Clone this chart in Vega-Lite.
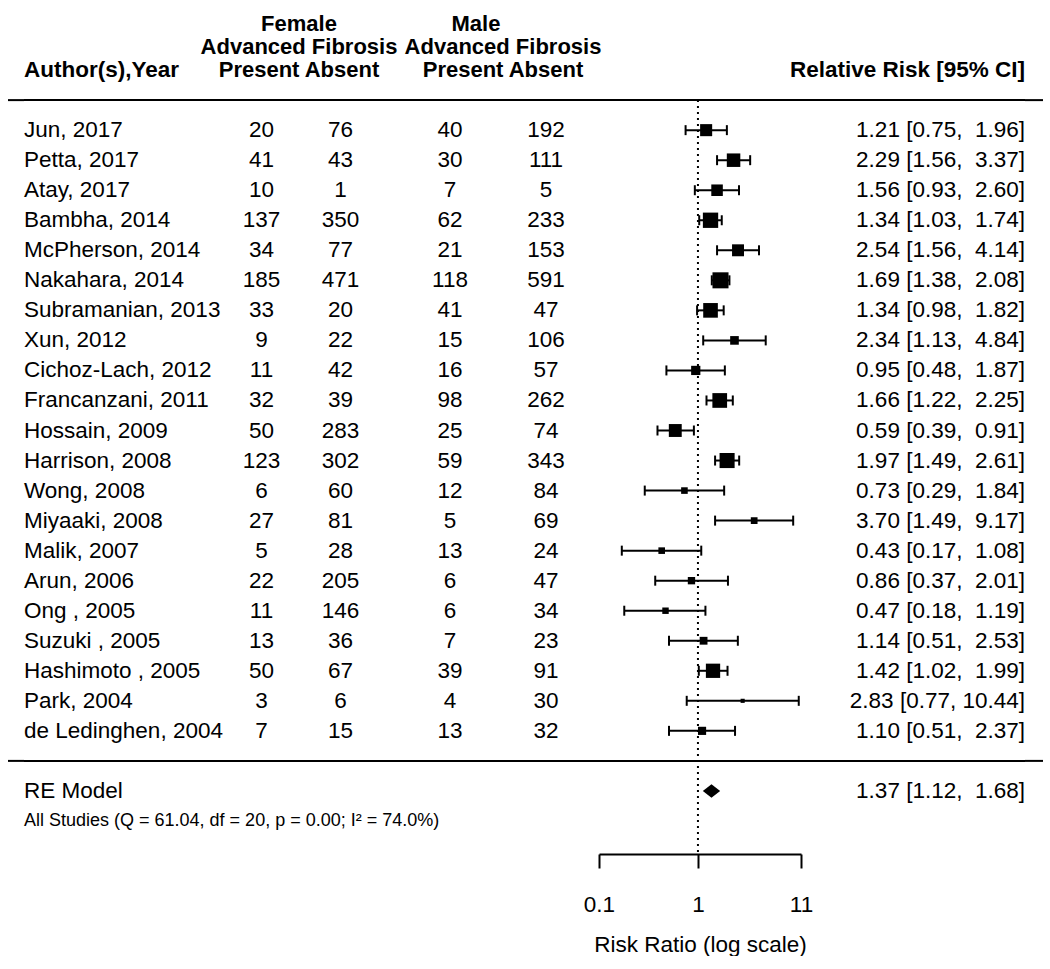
{
  "$schema": "https://vega.github.io/schema/vega-lite/v6.json",
  "padding": {"left": 7, "right": 8, "top": 1, "bottom": 0},
  "background": "white",
  "spacing": 0,
  "bounds": "flush",
  "config": {
    "view": {"stroke": null},
    "font": "Liberation Sans",
    "text": {"fontSize": 22.5, "color": "black", "baseline": "middle"},
    "axisX": {"grid": false, "domainColor": "black", "domainWidth": 2, "tickColor": "black", "tickWidth": 2, "tickSize": 14,
              "labelFontSize": 22.5, "labelColor": "black", "labelPadding": 25, "labelFont": "Liberation Sans",
              "labelFlush": false, "labelOverlap": false,
              "titleFontSize": 22.5, "titleFontWeight": "normal", "titleColor": "black", "titlePadding": 18, "titleFont": "Liberation Sans"}
  },
  "datasets": {
    "lines": [{"row": 22}, {"row": 0}],
    "studies": [
      {"row": 21, "study": "Jun, 2017", "fp": 20, "fa": 76, "mp": 40, "ma": 192, "rr": 1.21, "lb": 0.75, "ub": 1.96, "wt": 5.39, "ci": "1.21 [0.75, \u00a01.96]"},
      {"row": 20, "study": "Petta, 2017", "fp": 41, "fa": 43, "mp": 30, "ma": 111, "rr": 2.29, "lb": 1.56, "ub": 3.37, "wt": 6.04, "ci": "2.29 [1.56, \u00a03.37]"},
      {"row": 19, "study": "Atay, 2017", "fp": 10, "fa": 1, "mp": 7, "ma": 5, "rr": 1.56, "lb": 0.93, "ub": 2.60, "wt": 5.16, "ci": "1.56 [0.93, \u00a02.60]"},
      {"row": 18, "study": "Bambha, 2014", "fp": 137, "fa": 350, "mp": 62, "ma": 233, "rr": 1.34, "lb": 1.03, "ub": 1.74, "wt": 6.85, "ci": "1.34 [1.03, \u00a01.74]"},
      {"row": 17, "study": "McPherson, 2014", "fp": 34, "fa": 77, "mp": 21, "ma": 153, "rr": 2.54, "lb": 1.56, "ub": 4.14, "wt": 5.34, "ci": "2.54 [1.56, \u00a04.14]"},
      {"row": 16, "study": "Nakahara, 2014", "fp": 185, "fa": 471, "mp": 118, "ma": 591, "rr": 1.69, "lb": 1.38, "ub": 2.08, "wt": 7.17, "ci": "1.69 [1.38, \u00a02.08]"},
      {"row": 15, "study": "Subramanian, 2013", "fp": 33, "fa": 20, "mp": 41, "ma": 47, "rr": 1.34, "lb": 0.98, "ub": 1.82, "wt": 6.55, "ci": "1.34 [0.98, \u00a01.82]"},
      {"row": 14, "study": "Xun, 2012", "fp": 9, "fa": 22, "mp": 15, "ma": 106, "rr": 2.34, "lb": 1.13, "ub": 4.84, "wt": 3.86, "ci": "2.34 [1.13, \u00a04.84]"},
      {"row": 13, "study": "Cichoz-Lach, 2012", "fp": 11, "fa": 42, "mp": 16, "ma": 57, "rr": 0.95, "lb": 0.48, "ub": 1.87, "wt": 4.13, "ci": "0.95 [0.48, \u00a01.87]"},
      {"row": 12, "study": "Francanzani, 2011", "fp": 32, "fa": 39, "mp": 98, "ma": 262, "rr": 1.66, "lb": 1.22, "ub": 2.25, "wt": 6.58, "ci": "1.66 [1.22, \u00a02.25]"},
      {"row": 11, "study": "Hossain, 2009", "fp": 50, "fa": 283, "mp": 25, "ma": 74, "rr": 0.59, "lb": 0.39, "ub": 0.91, "wt": 5.77, "ci": "0.59 [0.39, \u00a00.91]"},
      {"row": 10, "study": "Harrison, 2008", "fp": 123, "fa": 302, "mp": 59, "ma": 343, "rr": 1.97, "lb": 1.49, "ub": 2.61, "wt": 6.74, "ci": "1.97 [1.49, \u00a02.61]"},
      {"row": 9, "study": "Wong, 2008", "fp": 6, "fa": 60, "mp": 12, "ma": 84, "rr": 0.73, "lb": 0.29, "ub": 1.84, "wt": 2.95, "ci": "0.73 [0.29, \u00a01.84]"},
      {"row": 8, "study": "Miyaaki, 2008", "fp": 27, "fa": 81, "mp": 5, "ma": 69, "rr": 3.70, "lb": 1.49, "ub": 9.17, "wt": 3.01, "ci": "3.70 [1.49, \u00a09.17]"},
      {"row": 7, "study": "Malik, 2007", "fp": 5, "fa": 28, "mp": 13, "ma": 24, "rr": 0.43, "lb": 0.17, "ub": 1.08, "wt": 2.95, "ci": "0.43 [0.17, \u00a01.08]"},
      {"row": 6, "study": "Arun, 2006", "fp": 22, "fa": 205, "mp": 6, "ma": 47, "rr": 0.86, "lb": 0.37, "ub": 2.01, "wt": 3.28, "ci": "0.86 [0.37, \u00a02.01]"},
      {"row": 5, "study": "Ong , 2005", "fp": 11, "fa": 146, "mp": 6, "ma": 34, "rr": 0.47, "lb": 0.18, "ub": 1.19, "wt": 2.88, "ci": "0.47 [0.18, \u00a01.19]"},
      {"row": 4, "study": "Suzuki , 2005", "fp": 13, "fa": 36, "mp": 7, "ma": 23, "rr": 1.14, "lb": 0.51, "ub": 2.53, "wt": 3.49, "ci": "1.14 [0.51, \u00a02.53]"},
      {"row": 3, "study": "Hashimoto , 2005", "fp": 50, "fa": 67, "mp": 39, "ma": 91, "rr": 1.42, "lb": 1.02, "ub": 1.99, "wt": 6.39, "ci": "1.42 [1.02, \u00a01.99]"},
      {"row": 2, "study": "Park, 2004", "fp": 3, "fa": 6, "mp": 4, "ma": 30, "rr": 2.83, "lb": 0.77, "ub": 10.44, "wt": 1.84, "ci": "2.83 [0.77, 10.44]"},
      {"row": 1, "study": "de Ledinghen, 2004", "fp": 7, "fa": 15, "mp": 13, "ma": 32, "rr": 1.10, "lb": 0.51, "ub": 2.37, "wt": 3.65, "ci": "1.10 [0.51, \u00a02.37]"}
    ],
    "pooled": [{"row": -1, "label": "RE Model", "rr": 1.37, "lb": 1.12, "ub": 1.68, "ci": "1.37 [1.12, \u00a01.68]"}],
    "stats": [{"row": -2, "label": "All Studies (Q = 61.04, df = 20, p = 0.00; I² = 74.0%)"}]
  },
  "hconcat": [
    {
      "width": 16, "height": 853,
      "data": {"name": "lines"},
      "mark": {"type": "rule", "strokeWidth": 2, "color": "black"},
      "encoding": {"y": {"field": "row", "type": "quantitative", "scale": {"domain": [-3.1, 25.3], "nice": false, "zero": false}, "axis": null}}
    },
    {
      "width": 181, "height": 853,
      "layer": [
        {"data": {"name": "lines"}, "mark": {"type": "rule", "strokeWidth": 2, "color": "black"},
         "encoding": {"y": {"field": "row", "type": "quantitative", "scale": {"domain": [-3.1, 25.3], "nice": false, "zero": false}, "axis": null}}},
        {"data": {"name": "studies"}, "mark": {"type": "text", "align": "left"},
         "encoding": {"x": {"datum": 0, "type": "quantitative", "scale": {"domain": [0, 1], "nice": false, "zero": false}, "axis": null},
                      "y": {"field": "row", "type": "quantitative", "axis": null}, "text": {"field": "study"}}},
        {"data": {"values": [{"row": 23, "label": "Author(s),Year"}]}, "mark": {"type": "text", "align": "left", "fontWeight": "bold"},
         "encoding": {"x": {"datum": 0, "type": "quantitative"}, "y": {"field": "row", "type": "quantitative"}, "text": {"field": "label"}}},
        {"data": {"name": "pooled"}, "mark": {"type": "text", "align": "left"},
         "encoding": {"x": {"datum": 0, "type": "quantitative"}, "y": {"field": "row", "type": "quantitative"}, "text": {"field": "label"}}},
        {"data": {"name": "stats"}, "mark": {"type": "text", "align": "left", "fontSize": 18},
         "encoding": {"x": {"datum": 0, "type": "quantitative"}, "y": {"field": "row", "type": "quantitative"}, "text": {"field": "label"}}}
      ]
    },
    {
      "width": 192, "height": 853,
      "layer": [
        {"data": {"name": "lines"}, "mark": {"type": "rule", "strokeWidth": 2, "color": "black"},
         "encoding": {"y": {"field": "row", "type": "quantitative", "scale": {"domain": [-3.1, 25.3], "nice": false, "zero": false}, "axis": null}}},
        {"data": {"name": "studies"}, "mark": {"type": "text"},
         "encoding": {"x": {"datum": "Present", "type": "nominal", "scale": {"type": "point", "domain": ["Present", "Absent"], "padding": 0.715}, "axis": null},
                      "y": {"field": "row", "type": "quantitative"}, "text": {"field": "fp"}}},
        {"data": {"name": "studies"}, "mark": {"type": "text"},
         "encoding": {"x": {"datum": "Absent", "type": "nominal"}, "y": {"field": "row", "type": "quantitative"}, "text": {"field": "fa"}}},
        {"data": {"values": [{"row": 23, "label": "Female\nAdvanced Fibrosis\nPresent Absent"}]},
         "mark": {"type": "text", "fontWeight": "bold", "fontSize": 22, "lineBreak": "\n", "lineHeight": 23, "dy": -46, "dx": -2},
         "encoding": {"y": {"field": "row", "type": "quantitative"}, "text": {"field": "label"}}}
      ]
    },
    {
      "width": 202, "height": 853,
      "layer": [
        {"data": {"name": "lines"}, "mark": {"type": "rule", "strokeWidth": 2, "color": "black"},
         "encoding": {"y": {"field": "row", "type": "quantitative", "scale": {"domain": [-3.1, 25.3], "nice": false, "zero": false}, "axis": null}}},
        {"data": {"name": "studies"}, "mark": {"type": "text"},
         "encoding": {"x": {"datum": "Present", "type": "nominal", "scale": {"type": "point", "domain": ["Present", "Absent"], "padding": 0.552}, "axis": null},
                      "y": {"field": "row", "type": "quantitative"}, "text": {"field": "mp"}}},
        {"data": {"name": "studies"}, "mark": {"type": "text"},
         "encoding": {"x": {"datum": "Absent", "type": "nominal"}, "y": {"field": "row", "type": "quantitative"}, "text": {"field": "ma"}}},
        {"data": {"values": [{"row": 23, "label": "Male"}]},
         "mark": {"type": "text", "fontWeight": "bold", "fontSize": 22, "dy": -46, "dx": -22},
         "encoding": {"y": {"field": "row", "type": "quantitative"}, "text": {"field": "label"}}},
        {"data": {"values": [{"row": 23, "label": "Advanced Fibrosis\nPresent Absent"}]},
         "mark": {"type": "text", "fontWeight": "bold", "fontSize": 22, "lineBreak": "\n", "lineHeight": 23, "dy": -23, "dx": 5},
         "encoding": {"y": {"field": "row", "type": "quantitative"}, "text": {"field": "label"}}}
      ]
    },
    {
      "width": 202, "height": 853,
      "layer": [
        {"data": {"name": "lines"}, "mark": {"type": "rule", "strokeWidth": 2, "color": "black"},
         "encoding": {"y": {"field": "row", "type": "quantitative", "scale": {"domain": [-3.1, 25.3], "nice": false, "zero": false}, "axis": null}}},
        {"data": {"values": [{"ref": 1, "top": 22, "bottom": -3.1}]},
         "mark": {"type": "rule", "strokeDash": [2, 4], "strokeWidth": 2, "color": "black"},
         "encoding": {
           "x": {"field": "ref", "type": "quantitative", "title": "Risk Ratio (log scale)", "scale": {"type": "log", "domain": [0.1, 11], "nice": false},
                 "axis": {"values": [0.1, 1, 11], "format": "~g", "title": "Risk Ratio (log scale)"}},
           "y": {"field": "top", "type": "quantitative"}, "y2": {"field": "bottom"}}},
        {"data": {"name": "studies"}, "mark": {"type": "rule", "strokeWidth": 2, "color": "black"},
         "encoding": {"x": {"field": "lb", "type": "quantitative", "title": "Risk Ratio (log scale)", "axis": {"values": [0.1, 1, 11], "format": "~g", "title": "Risk Ratio (log scale)"}},
                      "x2": {"field": "ub"}, "y": {"field": "row", "type": "quantitative"}}},
        {"data": {"name": "studies"}, "mark": {"type": "tick", "orient": "vertical", "size": 10, "thickness": 2, "color": "black", "opacity": 1},
         "encoding": {"x": {"field": "lb", "type": "quantitative", "title": "Risk Ratio (log scale)", "axis": {"values": [0.1, 1, 11], "format": "~g", "title": "Risk Ratio (log scale)"}},
                      "y": {"field": "row", "type": "quantitative"}}},
        {"data": {"name": "studies"}, "mark": {"type": "tick", "orient": "vertical", "size": 10, "thickness": 2, "color": "black", "opacity": 1},
         "encoding": {"x": {"field": "ub", "type": "quantitative", "title": "Risk Ratio (log scale)", "axis": {"values": [0.1, 1, 11], "format": "~g", "title": "Risk Ratio (log scale)"}},
                      "y": {"field": "row", "type": "quantitative"}}},
        {"data": {"name": "studies"}, "mark": {"type": "point", "shape": "square", "filled": true, "color": "black", "opacity": 1},
         "encoding": {"x": {"field": "rr", "type": "quantitative", "title": "Risk Ratio (log scale)", "axis": {"values": [0.1, 1, 11], "format": "~g", "title": "Risk Ratio (log scale)"}},
                      "y": {"field": "row", "type": "quantitative"},
                      "size": {"field": "wt", "type": "quantitative", "scale": {"type": "pow", "exponent": 2, "domain": [0, 8], "range": [0, 320]}, "legend": null}}},
        {"data": {"name": "pooled"}, "mark": {"type": "point", "shape": "M-1,0L0,-0.78L1,0L0,0.78Z", "filled": true, "color": "black", "opacity": 1, "size": 300},
         "encoding": {"x": {"field": "rr", "type": "quantitative", "title": "Risk Ratio (log scale)", "axis": {"values": [0.1, 1, 11], "format": "~g", "title": "Risk Ratio (log scale)"}},
                      "y": {"field": "row", "type": "quantitative"}}}
      ]
    },
    {
      "width": 224, "height": 853,
      "layer": [
        {"data": {"name": "lines"}, "mark": {"type": "rule", "strokeWidth": 2, "color": "black"},
         "encoding": {"y": {"field": "row", "type": "quantitative", "scale": {"domain": [-3.1, 25.3], "nice": false, "zero": false}, "axis": null}}},
        {"data": {"name": "studies"}, "mark": {"type": "text", "align": "right"},
         "encoding": {"x": {"datum": 1, "type": "quantitative", "scale": {"domain": [0, 1], "nice": false, "zero": false}, "axis": null},
                      "y": {"field": "row", "type": "quantitative"}, "text": {"field": "ci"}}},
        {"data": {"name": "pooled"}, "mark": {"type": "text", "align": "right"},
         "encoding": {"x": {"datum": 1, "type": "quantitative"}, "y": {"field": "row", "type": "quantitative"}, "text": {"field": "ci"}}},
        {"data": {"values": [{"row": 23, "label": "Relative Risk [95% CI]"}]}, "mark": {"type": "text", "align": "right", "fontWeight": "bold"},
         "encoding": {"x": {"datum": 1, "type": "quantitative"}, "y": {"field": "row", "type": "quantitative"}, "text": {"field": "label"}}}
      ]
    },
    {
      "width": 18, "height": 853,
      "data": {"name": "lines"},
      "mark": {"type": "rule", "strokeWidth": 2, "color": "black"},
      "encoding": {"y": {"field": "row", "type": "quantitative", "scale": {"domain": [-3.1, 25.3], "nice": false, "zero": false}, "axis": null}}
    }
  ]
}
